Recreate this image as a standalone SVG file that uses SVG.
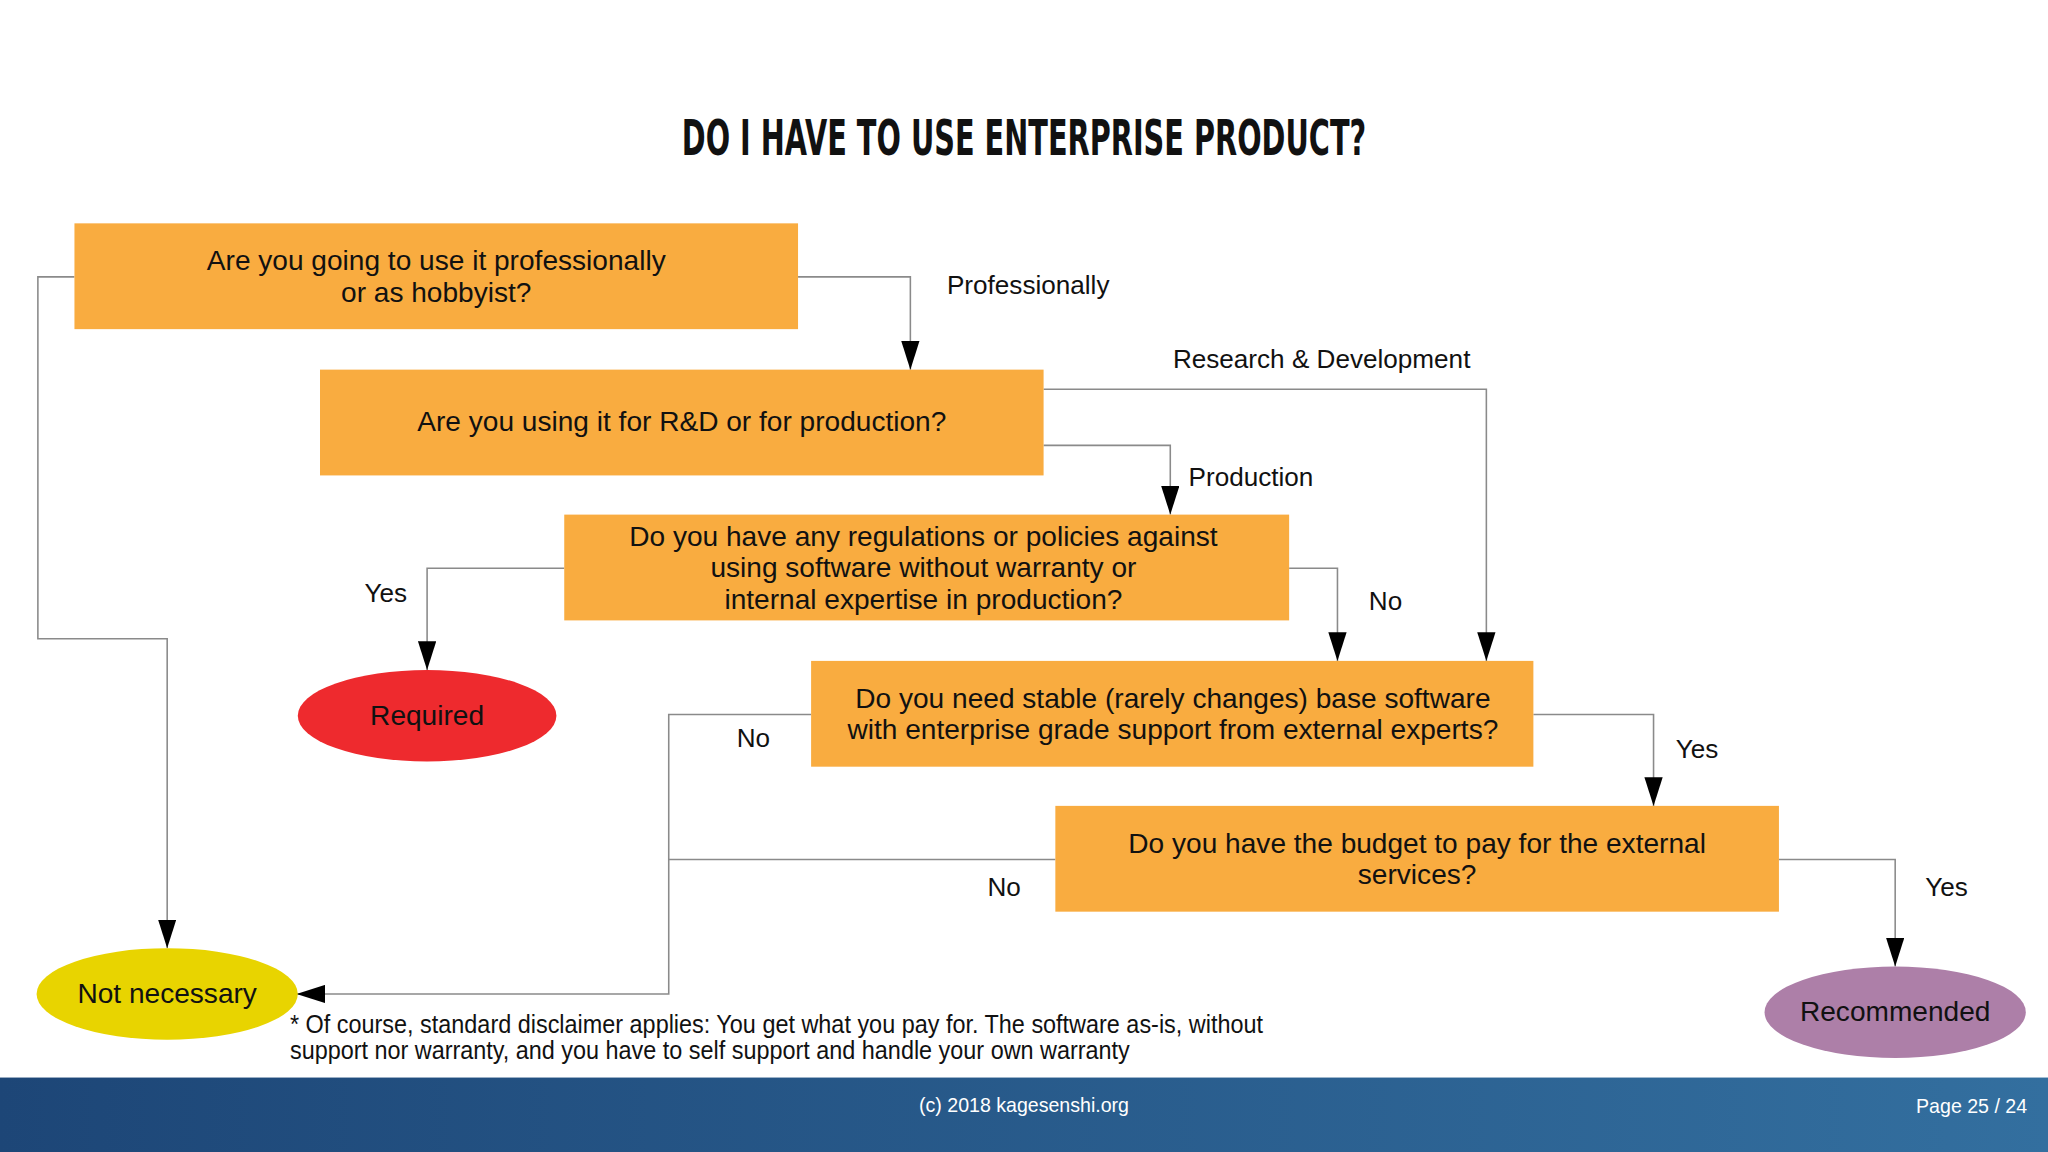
<svg xmlns="http://www.w3.org/2000/svg" width="2048" height="1152" viewBox="0 0 2048 1152">
<defs>
<marker id="ah" markerWidth="22" markerHeight="14" refX="22" refY="7" orient="auto" markerUnits="userSpaceOnUse"><path d="M0,0 L22,7 L0,14 Z" fill="#000"/></marker>
<linearGradient id="bar" x1="0" x2="1" y1="0" y2="0"><stop offset="0" stop-color="#1d4677"/><stop offset="1" stop-color="#336f9f"/></linearGradient>
<style>
.box{fill:#f9ac40}
.t{font-family:"Liberation Sans",Arial,sans-serif;font-size:21.5px;fill:#111;text-anchor:middle}
.l{font-family:"Liberation Sans",Arial,sans-serif;font-size:20px;fill:#111}
.c{fill:none;stroke:#8a8a8a;stroke-width:1.2}
.a{marker-end:url(#ah)}
</style>
</defs>
<rect width="2048" height="1152" fill="#fff"/>
<g transform="scale(1.30612)">
<text x="784" y="119" font-family="'DejaVu Sans Condensed','Liberation Sans',sans-serif" font-weight="bold" font-size="38" text-anchor="middle" textLength="524" lengthAdjust="spacingAndGlyphs" fill="#111">DO I HAVE TO USE ENTERPRISE PRODUCT?</text>
<g id="connectors">
<path class="c a" d="M611,212 H697 V283"/>
<path class="c a" d="M57,212 H29 V489 H128 V726"/>
<path class="c a" d="M799,298 H1138 V506"/>
<path class="c a" d="M799,341 H896 V394"/>
<path class="c a" d="M432,435 H327 V513"/>
<path class="c a" d="M987,435 H1024 V506"/>
<path class="c a" d="M621,547 H512 V761 H227"/>
<path class="c a" d="M1174,547 H1266 V617"/>
<path class="c" d="M808,658 H512"/>
<path class="c a" d="M1362,658 H1451 V740"/>
<text class="l" x="725" y="225">Professionally</text>
<text class="l" x="898" y="282">Research &amp; Development</text>
<text class="l" x="910" y="372">Production</text>
<text class="l" x="279" y="461">Yes</text>
<text class="l" x="1048" y="467">No</text>
<text class="l" x="564" y="572">No</text>
<text class="l" x="1283" y="580">Yes</text>
<text class="l" x="756" y="686">No</text>
<text class="l" x="1474" y="686">Yes</text>
</g>
<g id="q1"><rect class="box" x="57" y="171" width="554" height="81"/><text class="t" x="334" y="207">Are you going to use it professionally</text><text class="t" x="334" y="231">or as hobbyist?</text></g>
<g id="q2"><rect class="box" x="245" y="283" width="554" height="81"/><text class="t" x="522" y="330">Are you using it for R&amp;D or for production?</text></g>
<g id="q3"><rect class="box" x="432" y="394" width="555" height="81"/><text class="t" x="707" y="418">Do you have any regulations or policies against</text><text class="t" x="707" y="442">using software without warranty or</text><text class="t" x="707" y="466">internal expertise in production?</text></g>
<g id="q4"><rect class="box" x="621" y="506" width="553" height="81"/><text class="t" x="898" y="542">Do you need stable (rarely changes) base software</text><text class="t" x="898" y="566">with enterprise grade support from external experts?</text></g>
<g id="q5"><rect class="box" x="808" y="617" width="554" height="81"/><text class="t" x="1085" y="653">Do you have the budget to pay for the external</text><text class="t" x="1085" y="677">services?</text></g>
<g id="required"><ellipse cx="327" cy="548" rx="99" ry="35" fill="#ee2a2e"/><text class="t" x="327" y="555">Required</text></g>
<g id="notnecessary"><ellipse cx="128" cy="761" rx="100" ry="35" fill="#e8d400"/><text class="t" x="128" y="768">Not necessary</text></g>
<g id="recommended"><ellipse cx="1451" cy="775" rx="100" ry="35" fill="#ad7fa8"/><text class="t" x="1451" y="782">Recommended</text></g>
<text class="l" x="222" y="791" font-size="17" textLength="745" lengthAdjust="spacingAndGlyphs">* Of course, standard disclaimer applies: You get what you pay for. The software as-is, without</text>
<text class="l" x="222" y="811" font-size="17" textLength="643" lengthAdjust="spacingAndGlyphs">support nor warranty, and you have to self support and handle your own warranty</text>
<rect x="0" y="825" width="1568" height="57" fill="url(#bar)"/>
<text x="784" y="851" font-family="'Liberation Sans',sans-serif" font-size="15" fill="#fff" text-anchor="middle">(c) 2018 kagesenshi.org</text>
<text x="1552" y="852" font-family="'Liberation Sans',sans-serif" font-size="15" fill="#fff" text-anchor="end">Page 25 / 24</text>
</g>
</svg>
